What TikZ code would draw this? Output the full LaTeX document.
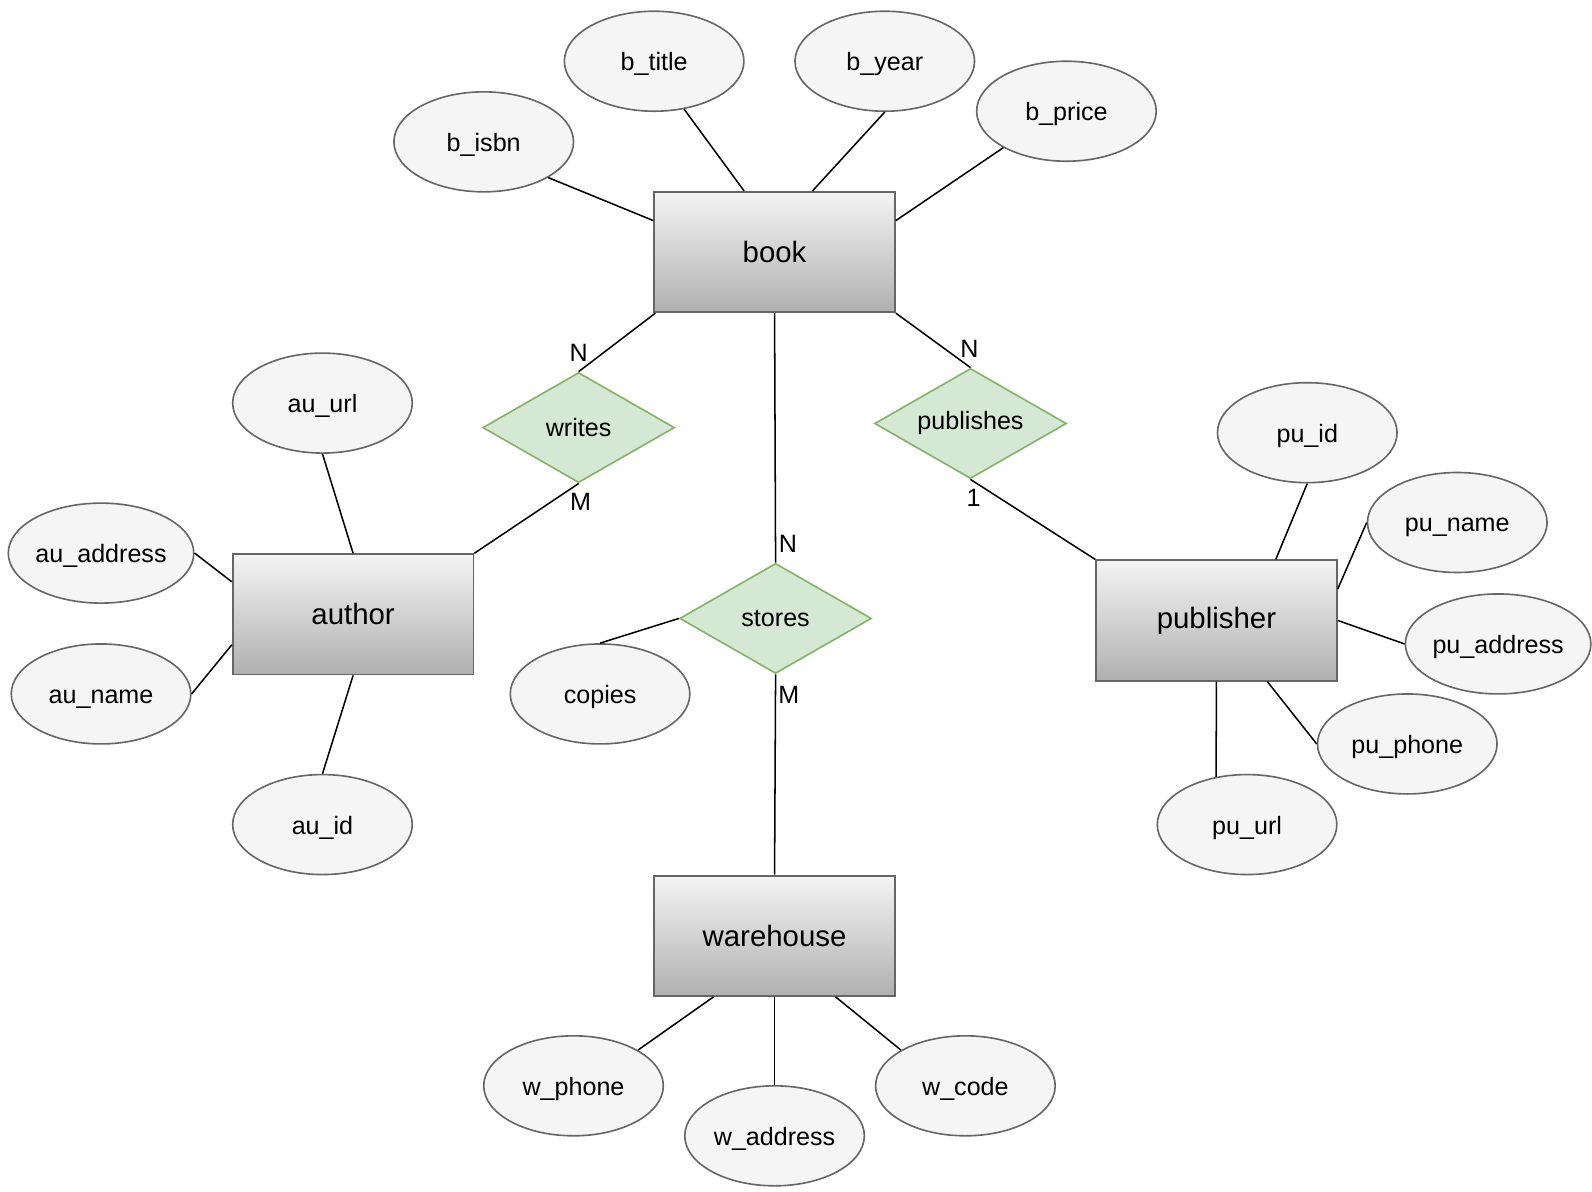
\documentclass[tikz,border=0pt]{standalone}
\usepackage{fontspec}
\setmainfont{Liberation Sans}
\usetikzlibrary{shapes.geometric,calc}
\definecolor{entborder}{HTML}{666666}
\definecolor{enttop}{HTML}{F4F4F4}
\definecolor{entbot}{HTML}{B0B0B0}
\definecolor{attrfill}{HTML}{F5F5F5}
\definecolor{relfill}{HTML}{D5E8D4}
\definecolor{relborder}{HTML}{82B366}
\tikzset{
  entity/.style={rectangle, draw=entborder, line width=1pt, top color=enttop, bottom color=entbot,
    minimum width=4.72cm, minimum height=2.36cm, inner sep=0pt, font=\fontsize{16.4}{19}\selectfont},
  attr/.style={ellipse, draw=entborder, line width=0.9pt, fill=attrfill,
    minimum width=3.52cm, minimum height=1.96cm, inner sep=0pt, text height=2.1ex, text depth=0.1ex,
    font=\fontsize{14}{16}\selectfont},
  rel/.style={diamond, aspect=1.74, draw=relborder, line width=0.9pt, fill=relfill,
    minimum width=3.76cm, minimum height=2.16cm, inner sep=0pt, font=\fontsize{14}{16}\selectfont},
  card/.style={inner sep=0pt, font=\fontsize{14}{16}\selectfont},
  conn/.style={draw=black, line width=0.85pt}
}
\begin{document}
\begin{tikzpicture}[x=0.02cm, y=-0.02cm]
\fill[white] (0,0) rectangle (1560,1168);
\useasboundingbox (0,0) rectangle (1560,1168);

% entities
\node[entity] (book) at (759,247) {book};
\node[entity] (author) at (346,602) {author};
\node[entity] (publisher) at (1192,608) {publisher};
\node[entity] (warehouse) at (759,917) {warehouse};

% relationships
\node[rel] (writes) at (567,419) {writes};
\node[rel] (publishes) at (951,415) {publishes};
\node[rel] (stores) at (760,606) {stores};

% attributes
\node[attr] (bisbn) at (474,139) {b\_isbn};
\node[attr] (btitle) at (641,60) {b\_title};
\node[attr] (byear) at (867,60) {b\_year};
\node[attr] (bprice) at (1045,109) {b\_price};
\node[attr] (auurl) at (316,395) {au\_url};
\node[attr] (auaddress) at (99,542) {au\_address};
\node[attr] (auname) at (99,680) {au\_name};
\node[attr] (auid) at (316,808) {au\_id};
\node[attr] (copies) at (588,680) {copies};
\node[attr] (puid) at (1281,424) {pu\_id};
\node[attr] (puname) at (1428,512) {pu\_name};
\node[attr] (puaddress) at (1468,631) {pu\_address};
\node[attr] (puphone) at (1379,729) {pu\_phone};
\node[attr] (puurl) at (1222,808) {pu\_url};
\node[attr] (wphone) at (562,1064) {w\_phone};
\node[attr] (waddress) at (759,1113) {w\_address};
\node[attr] (wcode) at (946,1064) {w\_code};

% cardinalities
\node[card] (c1) at (567,346) {N};
\node[card] (c2) at (569,492) {M};
\node[card] (c3) at (950,342) {N};
\node[card] (c4) at (954,488) {1};
\node[card] (c5) at (772,533) {N};
\node[card] (c6) at (773,681) {M};

% book attributes
\draw[conn] (bisbn.-29) -- ($(book.north west)+(0,29)$);
\draw[conn] (btitle.-58) -- ($(book.north west)+(89,0)$);
\draw[conn] (byear.south) -- ($(book.north west)+(156,0)$);
\draw[conn] (bprice.-150) -- ($(book.north east)+(0,29)$);

% relationships
\draw[conn] ($(book.south west)+(2,0)$) -- (writes.north);
\draw[conn] (writes.south) -- (author.north east);
\draw[conn] (book.south) -- (stores.north);
\draw[conn] (stores.south) -- (warehouse.north);
\draw[conn] (book.south east) -- (publishes.north);
\draw[conn] (publishes.south) -- (publisher.north west);

% author attributes
\draw[conn] (auurl.south) -- (author.north);
\draw[conn] (auaddress.east) -- ($(author.north west)+(0,28)$);
\draw[conn] (auname.east) -- ($(author.south west)+(0,-30)$);
\draw[conn] (auid.north) -- (author.south);
\draw[conn] (copies.north) -- (stores.west);

% publisher attributes
\draw[conn] (puid.south) -- ($(publisher.north west)+(177,0)$);
\draw[conn] (puname.west) -- ($(publisher.north east)+(0,29)$);
\draw[conn] (puaddress.west) -- (publisher.east);
\draw[conn] (puphone.west) -- ($(publisher.south east)+(-69,0)$);
\draw[conn] (puurl.123) -- (publisher.south);

% warehouse attributes
\draw[conn] (wphone.29) -- ($(warehouse.south west)+(59,0)$);
\draw[conn] (waddress.north) -- (warehouse.south);
\draw[conn] (wcode.151) -- ($(warehouse.south east)+(-59,0)$);
\end{tikzpicture}
\end{document}
